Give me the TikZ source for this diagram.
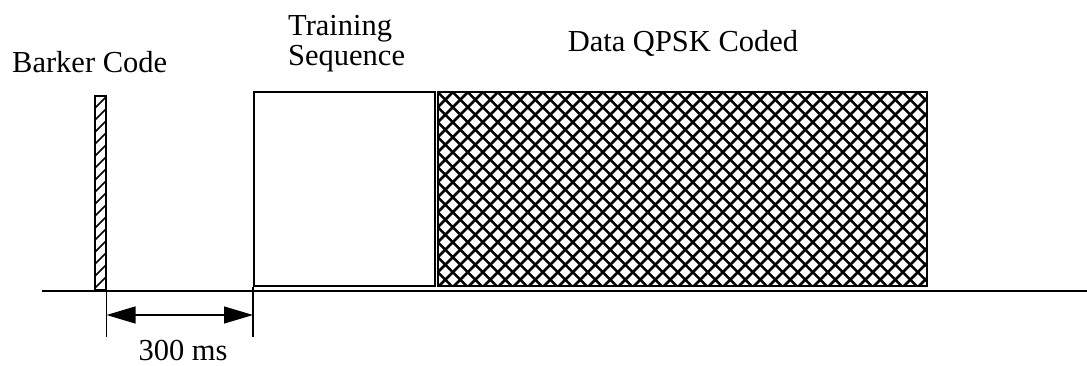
\documentclass[tikz,border=0pt]{standalone}
\usepackage{fontspec}
\setmainfont{Liberation Serif}
\usetikzlibrary{arrows.meta}

\tikzset{
  lbl/.style={font=\fontsize{30.5}{30}\selectfont, inner sep=0},
  frame/.style={draw, line width=1.6pt, inner sep=0},
  dimarrow/.style={line width=1.4pt, {Triangle[length=29pt,width=17pt]}-{Triangle[length=29pt,width=17pt]}},
}

\begin{document}
\begin{tikzpicture}[x=1pt, y=-1pt]
  \useasboundingbox (0,0) rectangle (1087,366);

  % axis
  \coordinate (axL) at (42,291);
  \coordinate (axR) at (1087,291);
  \draw[line width=1.5pt] (axL) -- (axR);

  % Barker code pulse
  \node[frame, anchor=south west, minimum width=11pt, minimum height=194pt,
        path picture={
          \foreach \k in {0,12,...,204}
            \draw[line width=1.6pt] ([yshift=-\k pt]path picture bounding box.north west) -- ++(12,-12);
        }] (barker) at (94,291) {};

  % training sequence
  \node[frame, anchor=south west, minimum width=181pt, minimum height=194pt] (train) at (253,287) {};

  % data, cross hatched
  \node[frame, anchor=south west, minimum width=489pt, minimum height=194pt,
        path picture={
          \foreach \d in {-210,-195,...,705} {
            \draw[line width=2.6pt] (path picture bounding box.north west) ++(\d,0) -- ++(200,200);
            \draw[line width=2.6pt] (path picture bounding box.north west) ++(\d,0) -- ++(-200,200);
          }
        }] (data) at (437,287) {};

  % labels
  \node[lbl, anchor=base west] (barkerTxt) at (12,73) {Barker Code};
  \node[lbl, anchor=north west, align=left] (trainTxt) at (288,15) {Training\\Sequence};
  \node[lbl, anchor=base] (dataTxt) at (683,52) {Data QPSK Coded};

  % 300 ms gap
  \coordinate (tickEnd) at (0,337);
  \coordinate (arrY) at (0,315);
  \draw[line width=1.4pt] (barker.south east) -- (barker.south east |- tickEnd);
  \draw[line width=1.4pt] (train.south west) -- (train.south west |- tickEnd);
  \draw[dimarrow] (barker.south east |- arrY) -- (train.south west |- arrY);
  \node[lbl, anchor=base] (gapTxt) at (183,360) {300 ms};
\end{tikzpicture}
\end{document}
